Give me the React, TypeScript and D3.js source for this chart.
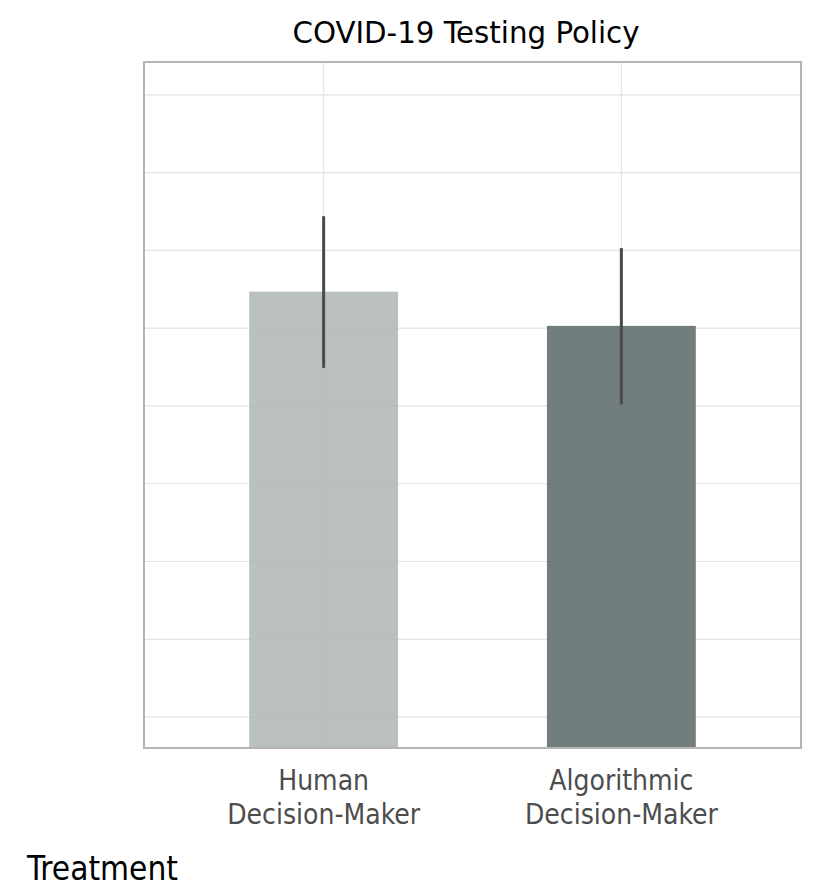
import React from 'react';
import * as d3 from 'd3';

// chart values
const categories = ['Human\nDecision-Maker', 'Algorithmic\nDecision-Maker'];
const means = [6.47, 6.03];
const lower = [5.49, 5.02];
const upper = [7.44, 7.03];
const barColors = ['#b2b9b9', '#637070'];
const gridValues = [1, 2, 3, 4, 5, 6, 7, 8, 9];

const W = 813;
const H = 889;
const margin = { top: 63, right: 13, bottom: 142, left: 145 };
const FONT = '"DejaVu Sans Condensed", "Liberation Sans Narrow", sans-serif';

const App: React.FC = () => {
  const innerW = W - margin.left - margin.right;
  const innerH = H - margin.top - margin.bottom;

  // discrete positions like ggplot's expansion (0.6 units each side)
  const x = d3.scalePoint<string>()
    .domain(categories)
    .range([0, innerW])
    .padding(0.6);

  const barW = x.step() * 0.5;

  const y = d3.scaleLinear()
    .domain([0.615, 9.41])
    .range([innerH, 0]);

  return (
    <svg width={W} height={H} style={{ display: 'block', position: 'absolute', left: 0, top: 0 }}>
      <rect width={W} height={H} fill="#ffffff" />
      <text x={466} y={43} textAnchor="middle" fontFamily={FONT} fontSize={30} fill="#000"
        textLength={347} lengthAdjust="spacingAndGlyphs">
        COVID-19 Testing Policy
      </text>
      <g transform={`translate(${margin.left},${margin.top})`}>
        {gridValues.map(v => (
          <line key={`h${v}`} x1={0} x2={innerW} y1={y(v)} y2={y(v)} stroke="#e3e3e3" strokeWidth={1.2} />
        ))}
        {categories.map(c => (
          <line key={`v${c}`} x1={x(c)} x2={x(c)} y1={0} y2={innerH} stroke="#e3e3e3" strokeWidth={1.2} />
        ))}
        {categories.map((c, i) => (
          <rect key={`b${c}`} x={(x(c) as number) - barW / 2} width={barW}
            y={y(means[i])} height={innerH - y(means[i])}
            fill={barColors[i]} fillOpacity={0.9} />
        ))}
        {categories.map((c, i) => (
          <line key={`e${c}`} x1={x(c)} x2={x(c)} y1={y(upper[i])} y2={y(lower[i])}
            stroke="#4a4a4a" strokeWidth={3} />
        ))}
        <rect x={-1} y={-1} width={innerW + 2} height={innerH + 2} fill="none" stroke="#b5b5b5" strokeWidth={2} />
        {categories.map(c => {
          const lines = c.split('\n');
          return (
            <text key={`t${c}`} textAnchor="middle" fontFamily={FONT} fontSize={28} fill="#4d4d4d">
              {lines.map((l, j) => (
                <tspan key={j} x={x(c)} y={innerH + 43 + j * 34}>{l}</tspan>
              ))}
            </text>
          );
        })}
      </g>
      <text x={27} y={880} fontFamily={FONT} fontSize={33} fill="#000"
        textLength={151} lengthAdjust="spacingAndGlyphs">
        Treatment
      </text>
    </svg>
  );
};

export default App;
